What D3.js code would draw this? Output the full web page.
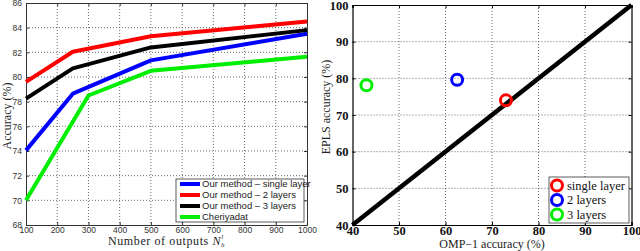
<!DOCTYPE html>
<html>
<head>
<meta charset="utf-8">
<script src="https://cdn.jsdelivr.net/npm/d3@7"></script>
<style>
  html, body { margin: 0; padding: 0; background: #fff; }
  svg { display: block; }
  .sans { font-family: "Liberation Sans", Arial, sans-serif; }
  .serif { font-family: "Liberation Serif", "Times New Roman", serif; }
</style>
</head>
<body>
<div id="chart"></div>
<script>
// Left panel: accuracy vs number of outputs
const outputsOurs = [100, 250, 500, 1000];
const outputsCheriyadat = [100, 300, 500, 1000];
const singleLayer = [74.05, 78.65, 81.35, 83.5];
const twoLayers = [79.6, 82.05, 83.3, 84.5];
const threeLayers = [78.25, 80.7, 82.4, 83.8];
const cheriyadat = [70.0, 78.5, 80.5, 81.65];
const leftXTicks = [100, 200, 300, 400, 500, 600, 700, 800, 900, 1000];
const leftYTicks = [68, 70, 72, 74, 76, 78, 80, 82, 84, 86];
const leftSeriesNames = ['Our method \u2013 single layer', 'Our method \u2013 2 layers', 'Our method \u2013 3 layers', 'Cheriyadat'];

// Right panel: EPLS vs OMP-1 accuracy
const scatterNames = ['single layer', '2 layers', '3 layers'];
const ompAccuracy = [73, 62.5, 43];
const eplsAccuracy = [74, 79.6, 78.1];
const rightTicks = [40, 50, 60, 70, 80, 90, 100];

const colors = ['#0000ff', '#ff0000', '#000000', '#00ee00'];
const scatterColors = ['#ff0000', '#0000ff', '#00ee00'];

const svg = d3.select('#chart').append('svg')
    .attr('width', 640)
    .attr('height', 251);

// ---------- left panel ----------
const L = { left: 26, right: 307, top: 3, bottom: 225 };
const lx = d3.scaleLinear().domain([100, 1000]).range([L.left, L.right]);
const ly = d3.scaleLinear().domain([68, 86]).range([L.bottom, L.top]);

const lg = svg.append('g');

// grid
lg.append('g').selectAll('line')
    .data(leftXTicks.slice(1, -1))
    .enter().append('line')
    .attr('x1', d => lx(d)).attr('x2', d => lx(d))
    .attr('y1', L.top).attr('y2', L.bottom)
    .attr('stroke', '#444').attr('stroke-width', 0.8)
    .attr('stroke-dasharray', '1,2');
lg.append('g').selectAll('line')
    .data(leftYTicks.slice(1, -1))
    .enter().append('line')
    .attr('y1', d => ly(d)).attr('y2', d => ly(d))
    .attr('x1', L.left).attr('x2', L.right)
    .attr('stroke', '#444').attr('stroke-width', 0.8)
    .attr('stroke-dasharray', '1,2');

// axes
lg.append('g')
    .attr('transform', `translate(0,${L.bottom})`)
    .call(d3.axisBottom(lx).tickValues(leftXTicks).tickFormat(d3.format('d')).tickSize(-3).tickPadding(2));
lg.append('g')
    .attr('transform', `translate(${L.left},0)`)
    .call(d3.axisLeft(ly).tickValues(leftYTicks).tickSize(-3).tickPadding(4));
lg.append('g')
    .attr('transform', `translate(0,${L.top})`)
    .call(d3.axisTop(lx).tickValues(leftXTicks).tickSize(-3).tickFormat(''));
lg.append('g')
    .attr('transform', `translate(${L.right},0)`)
    .call(d3.axisRight(ly).tickValues(leftYTicks).tickSize(-3).tickFormat(''));
lg.selectAll('.domain').attr('stroke', '#333');
lg.selectAll('.tick line').attr('stroke', '#333');
lg.selectAll('.tick text')
    .attr('class', 'sans')
    .attr('font-size', 8.5)
    .attr('fill', '#333');

// lines
const lineGen = d3.line().x(d => lx(d[0])).y(d => ly(d[1]));
const leftSeries = [
    outputsOurs.map((x, i) => [x, singleLayer[i]]),
    outputsOurs.map((x, i) => [x, twoLayers[i]]),
    outputsOurs.map((x, i) => [x, threeLayers[i]]),
    outputsCheriyadat.map((x, i) => [x, cheriyadat[i]])
];
lg.append('g').selectAll('path')
    .data(leftSeries)
    .enter().append('path')
    .attr('d', lineGen)
    .attr('fill', 'none')
    .attr('stroke', (d, i) => colors[i])
    .attr('stroke-width', 4)
    .attr('stroke-linejoin', 'round');

// legend
const lleg = lg.append('g').attr('transform', 'translate(176,179)');
lleg.append('rect')
    .attr('width', 128).attr('height', 43)
    .attr('fill', '#fff').attr('stroke', '#333').attr('stroke-width', 0.8);
const llegItems = lleg.selectAll('g.item')
    .data(leftSeriesNames)
    .enter().append('g')
    .attr('transform', (d, i) => `translate(0,${5 + i * 11})`);
llegItems.append('line')
    .attr('x1', 4).attr('x2', 24)
    .attr('stroke', (d, i) => colors[i])
    .attr('stroke-width', 4);
llegItems.append('text')
    .attr('class', 'sans')
    .attr('x', 26).attr('dy', '0.35em')
    .attr('font-size', 9.5)
    .attr('fill', '#222')
    .text(d => d);

// axis labels
lg.append('text')
    .attr('class', 'serif')
    .attr('transform', `translate(7,${(L.top + L.bottom) / 2 + 2}) rotate(-90)`)
    .attr('text-anchor', 'middle')
    .attr('dy', '0.35em')
    .attr('font-size', 12)
    .attr('fill', '#222')
    .text('Accuracy (%)');
const lxl = lg.append('text')
    .attr('class', 'serif')
    .attr('x', 108).attr('y', 245)
    .attr('font-size', 12)
    .attr('letter-spacing', 0.6)
    .attr('fill', '#222');
lxl.append('tspan').text('Number of outputs ');
lxl.append('tspan').attr('font-style', 'italic').text('N');
lxl.append('tspan').attr('font-style', 'italic').attr('font-size', 7).attr('dy', 2).text('h');
lxl.append('tspan').attr('font-style', 'italic').attr('font-size', 7).attr('dx', -4).attr('dy', -8).text('l');

// ---------- right panel ----------
const R = { left: 352.5, right: 631.5, top: 5, bottom: 225 };
const rx = d3.scaleLinear().domain([40, 100]).range([R.left, R.right]);
const ry = d3.scaleLinear().domain([40, 100]).range([R.bottom, R.top]);

const rg = svg.append('g');

rg.append('g').selectAll('line')
    .data(rightTicks.slice(1, -1))
    .enter().append('line')
    .attr('x1', d => rx(d)).attr('x2', d => rx(d))
    .attr('y1', R.top).attr('y2', R.bottom)
    .attr('stroke', '#444').attr('stroke-width', 0.8)
    .attr('stroke-dasharray', '1,2');
rg.append('g').selectAll('line')
    .data(rightTicks.slice(1, -1))
    .enter().append('line')
    .attr('y1', d => ry(d)).attr('y2', d => ry(d))
    .attr('x1', R.left).attr('x2', R.right)
    .attr('stroke', '#444').attr('stroke-width', 0.8)
    .attr('stroke-dasharray', '1,2');

rg.append('g')
    .attr('transform', `translate(0,${R.bottom})`)
    .call(d3.axisBottom(rx).tickValues(rightTicks).tickSize(-3).tickPadding(1));
rg.append('g')
    .attr('transform', `translate(${R.left},0)`)
    .call(d3.axisLeft(ry).tickValues(rightTicks).tickSize(-3).tickPadding(4));
rg.append('g')
    .attr('transform', `translate(0,${R.top})`)
    .call(d3.axisTop(rx).tickValues(rightTicks).tickSize(-3).tickFormat(''));
rg.append('g')
    .attr('transform', `translate(${R.right},0)`)
    .call(d3.axisRight(ry).tickValues(rightTicks).tickSize(-3).tickFormat(''));
rg.selectAll('.domain').attr('stroke', '#000').attr('stroke-width', 1.2);
rg.selectAll('.tick line').attr('stroke', '#000');
rg.selectAll('.tick text')
    .attr('class', 'serif')
    .attr('font-size', 12.5)
    .attr('font-weight', 'bold')
    .attr('fill', '#111');

// diagonal
rg.append('path')
    .attr('d', d3.line().x(d => rx(d)).y(d => ry(d))([40, 100]))
    .attr('fill', 'none')
    .attr('stroke', '#000')
    .attr('stroke-width', 4.5);

// points
rg.append('g').selectAll('circle')
    .data(ompAccuracy)
    .enter().append('circle')
    .attr('cx', d => rx(d))
    .attr('cy', (d, i) => ry(eplsAccuracy[i]))
    .attr('r', 5.5)
    .attr('fill', 'none')
    .attr('stroke', (d, i) => scatterColors[i])
    .attr('stroke-width', 3);

// legend
const rleg = rg.append('g').attr('transform', 'translate(549,177)');
rleg.append('rect')
    .attr('width', 80).attr('height', 46)
    .attr('fill', '#fff').attr('stroke', '#333').attr('stroke-width', 0.8);
const rlegItems = rleg.selectAll('g.item')
    .data(scatterNames)
    .enter().append('g')
    .attr('transform', (d, i) => `translate(0,${8.5 + i * 14.5})`);
rlegItems.append('circle')
    .attr('cx', 8).attr('r', 5.5)
    .attr('fill', 'none')
    .attr('stroke', (d, i) => scatterColors[i])
    .attr('stroke-width', 3);
rlegItems.append('text')
    .attr('class', 'serif')
    .attr('x', 18).attr('dy', '0.35em')
    .attr('font-size', 12.5)
    .attr('fill', '#111')
    .text(d => d);

rg.append('text')
    .attr('class', 'serif')
    .attr('transform', `translate(326,${(R.top + R.bottom) / 2 - 8}) rotate(-90)`)
    .attr('text-anchor', 'middle')
    .attr('dy', '0.35em')
    .attr('font-size', 12)
    .attr('fill', '#222')
    .text('EPLS accuracy (%)');
rg.append('text')
    .attr('class', 'serif')
    .attr('x', (R.left + R.right) / 2).attr('y', 248)
    .attr('text-anchor', 'middle')
    .attr('font-size', 12)
    .attr('fill', '#222')
    .text('OMP\u22121 accuracy (%)');
</script>
</body>
</html>
